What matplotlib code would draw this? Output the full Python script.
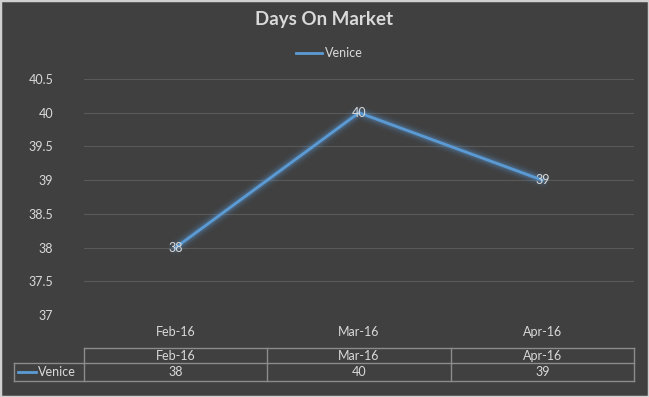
import matplotlib
matplotlib.use("Agg")
import matplotlib.pyplot as plt
from matplotlib.lines import Line2D
from matplotlib.patches import Rectangle
import numpy as np

categories = ["Feb-16", "Mar-16", "Apr-16"]
series_name = "Venice"
values = [38, 40, 39]
yticks = [37, 37.5, 38, 38.5, 39, 39.5, 40, 40.5]

W, H = 649, 397
BG = "#404040"
LINE = "#5b9bd5"
TXT = "#d9d9d9"
GRID = "#595959"
FONT = ["Lato", "DejaVu Sans"]
plt.rcParams["font.family"] = FONT

fig = plt.figure(figsize=(W / 100, H / 100), dpi=100, facecolor=BG)
fig.patches.append(Rectangle((0, 0), 1, 1, transform=fig.transFigure, fill=False,
                             edgecolor="#d0d0d0", linewidth=2.5))

L, R, T, B = 84, 634, 79, 315
ax = fig.add_axes([L / W, 1 - B / H, (R - L) / W, (B - T) / H], facecolor=BG)
ax.set_xlim(-0.5, len(categories) - 0.5)
ax.set_ylim(37, 40.5)
ax.set_yticks(yticks)
ax.set_yticklabels([f"{v:g}" for v in yticks])
ax.set_xticks(range(len(categories)))
ax.set_xticklabels(categories)
ax.tick_params(length=0, colors=TXT, labelsize=9)
ax.tick_params(axis="y", pad=22)
ax.tick_params(axis="x", pad=8)
for s in ax.spines.values():
    s.set_visible(False)
ax.grid(axis="y", color=GRID, linewidth=0.8)
ax.set_axisbelow(True)

x = np.arange(len(values))
for lw, a in [(11, 0.05), (8, 0.08), (6, 0.12), (4, 0.2)]:
    ax.plot(x, values, color=LINE, linewidth=lw, alpha=a, solid_capstyle="round",
            solid_joinstyle="round")
ax.plot(x, values, color=LINE, linewidth=2, solid_capstyle="round", solid_joinstyle="round")
for xi, v in zip(x, values):
    ax.text(xi, v, f"{v}", color=TXT, fontsize=9, ha="center", va="center")

fig.text(0.5, 1 - 20 / H, "Days On Market", ha="center", va="center",
         fontsize=13.5, fontweight="bold", color=TXT)
fig.add_artist(Line2D([296 / W, 322 / W], [1 - 53 / H, 1 - 53 / H], color=LINE, linewidth=2))
fig.text(325 / W, 1 - 53 / H, series_name, color=TXT, fontsize=9, va="center", ha="left")

TC = "#8c8c8c"
y0, y1, y2 = 348, 363, 381
lx = 14
cw = (R - L) / len(categories)
def fx(px): return px / W
def fy(py): return 1 - py / H
fig.add_artist(Line2D([fx(L), fx(R)], [fy(y0), fy(y0)], color=TC, linewidth=1))
fig.add_artist(Line2D([fx(lx), fx(R)], [fy(y1), fy(y1)], color=TC, linewidth=1))
fig.add_artist(Line2D([fx(lx), fx(R)], [fy(y2), fy(y2)], color=TC, linewidth=1))
fig.add_artist(Line2D([fx(lx), fx(lx)], [fy(y1), fy(y2)], color=TC, linewidth=1))
for i in range(len(categories) + 1):
    xx = L + i * cw
    fig.add_artist(Line2D([fx(xx), fx(xx)], [fy(y0), fy(y2)], color=TC, linewidth=1))
for i, (c, v) in enumerate(zip(categories, values)):
    cx = L + (i + 0.5) * cw
    fig.text(fx(cx), fy((y0 + y1) / 2), c, color=TXT, fontsize=9, ha="center", va="center")
    fig.text(fx(cx), fy((y1 + y2) / 2), f"{v}", color=TXT, fontsize=9, ha="center", va="center")
fig.add_artist(Line2D([fx(18), fx(36)], [fy(372), fy(372)], color=LINE, linewidth=2))
fig.text(fx(38), fy(372), series_name, color=TXT, fontsize=9, ha="left", va="center")

fig.savefig("out.png", dpi=100, facecolor=BG)
